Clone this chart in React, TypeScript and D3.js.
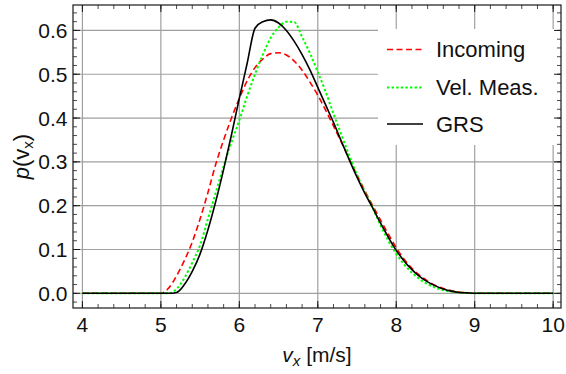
import React from "react";
import * as d3 from "d3";

const xs = [4.0, 5.0, 5.1, 5.2, 5.3, 5.4, 5.5, 5.6, 5.7, 5.8, 5.9, 6.0, 6.1, 6.2, 6.3, 6.4, 6.5, 6.6, 6.7, 6.8, 6.9, 7.0, 7.1, 7.2, 7.3, 7.4, 7.5, 7.6, 7.7, 7.8, 7.9, 8.0, 8.1, 8.2, 8.3, 8.4, 8.5, 8.6, 8.7, 8.8, 8.9, 9.0, 10.0];

const incoming = [0, 0, 0.012, 0.04, 0.075, 0.117, 0.17, 0.23, 0.295, 0.35, 0.4, 0.445, 0.485, 0.515, 0.535, 0.547, 0.549, 0.544, 0.53, 0.509, 0.482, 0.452, 0.418, 0.382, 0.345, 0.307, 0.27, 0.234, 0.2, 0.167, 0.135, 0.104, 0.078, 0.057, 0.041, 0.028, 0.018, 0.011, 0.006, 0.003, 0.001, 0, 0];

const velMeas = [0, 0, 0, 0.01, 0.035, 0.07, 0.11, 0.17, 0.23, 0.29, 0.345, 0.395, 0.45, 0.5, 0.545, 0.583, 0.607, 0.62, 0.619, 0.585, 0.548, 0.505, 0.46, 0.41, 0.362, 0.315, 0.27, 0.232, 0.195, 0.155, 0.12, 0.09, 0.066, 0.047, 0.032, 0.021, 0.013, 0.007, 0.004, 0.002, 0.001, 0, 0];

const grs = [0, 0, 0, 0.002, 0.02, 0.05, 0.09, 0.145, 0.21, 0.283, 0.362, 0.445, 0.525, 0.605, 0.62, 0.624, 0.617, 0.6, 0.575, 0.545, 0.51, 0.47, 0.43, 0.39, 0.347, 0.305, 0.265, 0.228, 0.195, 0.16, 0.128, 0.098, 0.074, 0.054, 0.038, 0.026, 0.017, 0.01, 0.005, 0.002, 0.001, 0, 0];

const xTicks = [4, 5, 6, 7, 8, 9, 10];
const yTicks = [0.0, 0.1, 0.2, 0.3, 0.4, 0.5, 0.6];
const seriesNames = ["Incoming", "Vel. Meas.", "GRS"];

const W = 566;
const H = 374;
const L = 73, R = 561, T = 5, B = 308;

export default function App() {
  const x = d3.scaleLinear().domain([3.88, 10.1]).range([L, R]);
  const y = d3.scaleLinear().domain([-0.0335, 0.658]).range([B, T]);

  const line = (vals: number[]) =>
    d3
      .line<number>()
      .x((_, i) => x(xs[i]))
      .y((d) => y(d))
      .curve(d3.curveMonotoneX)(vals) || "";

  const xMinor = d3.range(3.8, 10.21, 0.2).map((v) => +v.toFixed(2)).filter((v) => x(v) > L + 1 && x(v) < R - 1);
  const yMinor = d3.range(-0.04, 0.67, 0.02).map((v) => +v.toFixed(3)).filter((v) => y(v) < B - 1 && y(v) > T + 1);

  const frame = "#1a1a1a";
  const grid = "#a0a0a0";
  const font = "'Liberation Sans', Arial, sans-serif";

  const styles = [
    { stroke: "#ff0000", dash: "6,3.5", width: 1.6, data: incoming },
    { stroke: "#00ff00", dash: "2.4,2.2", width: 2, data: velMeas },
    { stroke: "#000000", dash: undefined, width: 1.6, data: grs },
  ];

  const legendY = [49.5, 87.5, 124];

  return (
    <svg width={W} height={H} style={{ position: "absolute", left: 0, top: 0, background: "#fff" }} fontFamily={font}>
      <rect x={0} y={0} width={W} height={H} fill="#fff" />
      {xTicks.map((t) => (
        <line key={"gx" + t} x1={x(t)} x2={x(t)} y1={T} y2={B} stroke={grid} strokeWidth={1.2} />
      ))}
      {yTicks.map((t) => (
        <line key={"gy" + t} x1={L} x2={R} y1={y(t)} y2={y(t)} stroke={grid} strokeWidth={1.2} />
      ))}
      <rect x={378} y={29} width={181} height={116} fill="#fff" />
      {styles.map((s, i) => (
        <path key={"c" + i} d={line(s.data)} fill="none" stroke={s.stroke} strokeWidth={s.width} strokeDasharray={s.dash} strokeLinejoin="round" />
      ))}
      <rect x={L} y={T} width={R - L} height={B - T} fill="none" stroke={frame} strokeWidth={1.2} />
      {xTicks.map((t) => (
        <g key={"tx" + t}>
          <line x1={x(t)} x2={x(t)} y1={B} y2={B - 7} stroke={frame} strokeWidth={1} />
          <line x1={x(t)} x2={x(t)} y1={T} y2={T + 7} stroke={frame} strokeWidth={1} />
          <text x={x(t)} y={331.5} fontSize={21} textAnchor="middle" fill="#111">
            {t}
          </text>
        </g>
      ))}
      {xMinor.map((t) => (
        <g key={"mx" + t}>
          <line x1={x(t)} x2={x(t)} y1={B} y2={B - 4} stroke={frame} strokeWidth={0.8} />
          <line x1={x(t)} x2={x(t)} y1={T} y2={T + 4} stroke={frame} strokeWidth={0.8} />
        </g>
      ))}
      {yTicks.map((t) => (
        <g key={"ty" + t}>
          <line x1={L} x2={L + 7} y1={y(t)} y2={y(t)} stroke={frame} strokeWidth={1} />
          <line x1={R} x2={R - 7} y1={y(t)} y2={y(t)} stroke={frame} strokeWidth={1} />
          <text x={67.5} y={y(t)} dy="0.36em" fontSize={21} textAnchor="end" fill="#111">
            {t.toFixed(1)}
          </text>
        </g>
      ))}
      {yMinor.map((t) => (
        <g key={"my" + t}>
          <line x1={L} x2={L + 4} y1={y(t)} y2={y(t)} stroke={frame} strokeWidth={0.8} />
          <line x1={R} x2={R - 4} y1={y(t)} y2={y(t)} stroke={frame} strokeWidth={0.8} />
        </g>
      ))}
      <text x={(L + R) / 2} y={362} fontSize={21} textAnchor="middle" fill="#111">
        <tspan fontStyle="italic">v</tspan>
        <tspan fontStyle="italic" fontSize={15} dy={4}>x</tspan>
        <tspan dy={-4}> [m/s]</tspan>
      </text>
      <text transform={`translate(29, ${(T + B) / 2}) rotate(-90)`} fontSize={22} textAnchor="middle" fill="#111">
        <tspan fontStyle="italic">p</tspan>
        <tspan>(v</tspan>
        <tspan fontSize={15} dy={4}>x</tspan>
        <tspan dy={-4}>)</tspan>
      </text>
      {styles.map((s, i) => (
        <g key={"lg" + i}>
          <line x1={387} x2={423} y1={legendY[i]} y2={legendY[i]} stroke={s.stroke} strokeWidth={s.width} strokeDasharray={s.dash} />
          <text x={436} y={legendY[i]} dy="0.36em" fontSize={22} fill="#111">
            {seriesNames[i]}
          </text>
        </g>
      ))}
    </svg>
  );
}
